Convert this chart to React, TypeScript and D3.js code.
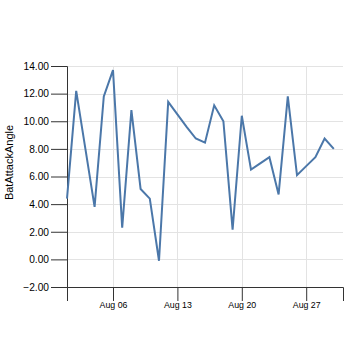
import { useEffect, useRef } from 'react';
import * as d3 from 'd3';

// August 2017, one reading per day
const days = [
  1, 2, 3, 4, 5, 6, 7, 8, 9, 10, 11, 12, 13, 14, 15,
  16, 17, 18, 19, 20, 21, 22, 23, 24, 25, 26, 27, 28, 29, 30,
];
const batAttackAngle = [
  4.4, 12.2, 8.0, 3.8, 11.8, 13.7, 2.3, 10.8, 5.1, 4.4, -0.1, 11.4, 10.5, 9.6, 8.75,
  8.45, 11.15, 10.0, 2.15, 10.4, 6.5, 6.95, 7.4, 4.7, 11.8, 6.1, 6.75, 7.4, 8.75, 8.0,
];
const yTicks = [-2, 0, 2, 4, 6, 8, 10, 12, 14];

const W = 354;
const H = 354;
const margin = { top: 66, right: 11, bottom: 67, left: 67 };

const App = () => {
  const svgRef = useRef<SVGSVGElement>(null);

  useEffect(() => {
    const svg = d3.select(svgRef.current);
    svg.selectAll('*').remove();

    const width = W - margin.left - margin.right;
    const height = H - margin.top - margin.bottom;

    const data = days.map((d, i) => ({ date: new Date(2017, 7, d), value: batAttackAngle[i] }));

    const x = d3.scaleTime()
      .domain([new Date(2017, 7, 1), new Date(2017, 7, 31)])
      .range([0, width]);
    const y = d3.scaleLinear().domain([-2, 14]).range([height, 0]);
    const xTicks = x.ticks(d3.timeWeek.every(1));

    const g = svg.append('g').attr('transform', `translate(${margin.left},${margin.top})`);

    // grid
    g.append('g')
      .selectAll('line')
      .data(yTicks)
      .enter().append('line')
      .attr('x1', 0)
      .attr('x2', width)
      .attr('y1', d => Math.round(y(d)) + 0.5)
      .attr('y2', d => Math.round(y(d)) + 0.5)
      .attr('stroke', '#e3e3e3')
      .attr('stroke-width', 1);

    g.append('g')
      .selectAll('line')
      .data(xTicks)
      .enter().append('line')
      .attr('x1', d => Math.round(x(d)) + 0.5)
      .attr('x2', d => Math.round(x(d)) + 0.5)
      .attr('y1', 0)
      .attr('y2', height)
      .attr('stroke', '#e3e3e3')
      .attr('stroke-width', 1);

    // axes
    const xAxis = g.append('g')
      .attr('transform', `translate(0,${height})`)
      .call(d3.axisBottom(x)
        .tickValues(xTicks)
        .tickFormat(d3.timeFormat('%b %d') as any)
        .tickSize(14)
        .tickSizeOuter(14)
        .tickPadding(1));
    xAxis.selectAll('text')
      .style('font-family', 'Liberation Sans, Arial, sans-serif')
      .style('font-size', '8.8px')
      .attr('fill', '#000');
    xAxis.selectAll('path, line').attr('stroke', '#333');

    const yAxis = g.append('g')
      .call(d3.axisLeft(y)
        .tickValues(yTicks)
        .tickFormat(d3.format('.2f'))
        .tickSize(16)
        .tickSizeOuter(16)
        .tickPadding(2));
    yAxis.selectAll('text')
      .style('font-family', 'Liberation Sans, Arial, sans-serif')
      .style('font-size', '10.2px')
      .attr('fill', '#000');
    yAxis.selectAll('path, line').attr('stroke', '#333');

    // line
    const line = d3.line<{ date: Date; value: number }>()
      .x(d => x(d.date))
      .y(d => y(d.value));

    g.append('path')
      .datum(data)
      .attr('fill', 'none')
      .attr('stroke', '#4b77a9')
      .attr('stroke-width', 2)
      .attr('stroke-linejoin', 'miter')
      .attr('d', line);

    // axis title
    svg.append('text')
      .attr('transform', `translate(13,${margin.top + height / 2 - 14}) rotate(-90)`)
      .attr('text-anchor', 'middle')
      .style('font-family', 'Liberation Sans, Arial, sans-serif')
      .style('font-size', '11px')
      .attr('fill', '#000')
      .text('BatAttackAngle');
  }, []);

  return (
    <svg
      ref={svgRef}
      width={W}
      height={H}
      style={{ position: 'absolute', left: 0, top: 0, background: '#fff' }}
    />
  );
};

export default App;
